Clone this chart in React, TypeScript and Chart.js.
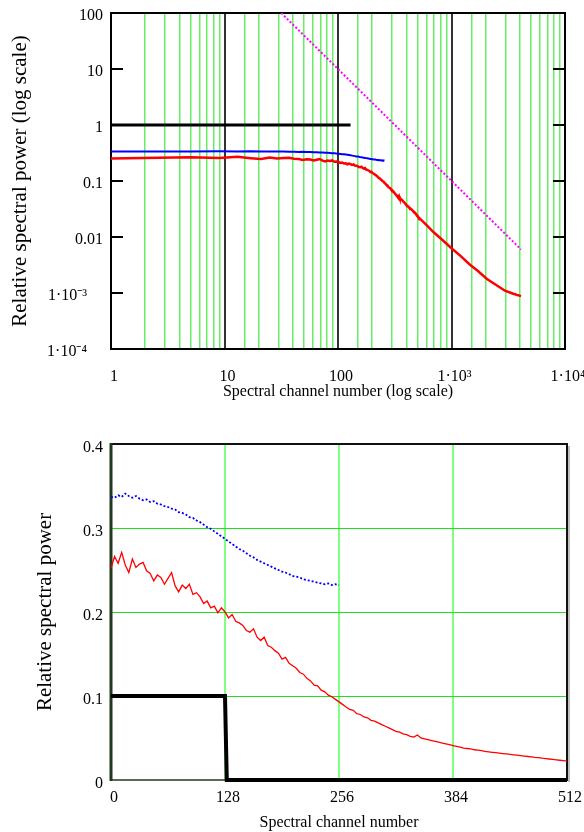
import React, { useEffect, useRef } from 'react';
import { Chart, registerables } from 'chart.js';

Chart.register(...registerables);

const SERIF = "'Liberation Serif', 'Times New Roman', serif";

// ---- data (bottom chart: channels 0..512 sampled every 4 channels) ----
const SAMPLE_STEP = 4;
const redPower = [
  0.252, 0.266, 0.258, 0.271, 0.256, 0.247, 0.263, 0.253, 0.257, 0.259,
  0.249, 0.246, 0.237, 0.244, 0.241, 0.233, 0.240, 0.247, 0.231, 0.224,
  0.232, 0.228, 0.233, 0.221, 0.223, 0.218, 0.210, 0.213, 0.205, 0.207,
  0.199, 0.205, 0.200, 0.193, 0.197, 0.189, 0.187, 0.184, 0.178, 0.176,
  0.180, 0.170, 0.166, 0.170, 0.160, 0.158, 0.154, 0.151, 0.144, 0.146,
  0.139, 0.136, 0.133, 0.128, 0.126, 0.121, 0.118, 0.113, 0.112, 0.107,
  0.105, 0.101, 0.099, 0.096, 0.093, 0.090, 0.087, 0.084, 0.083, 0.079,
  0.078, 0.075, 0.074, 0.071, 0.070, 0.068, 0.066, 0.064, 0.062, 0.060,
  0.058, 0.057, 0.055, 0.054, 0.052, 0.051, 0.0535, 0.050, 0.049, 0.048,
  0.047, 0.046, 0.045, 0.044, 0.043, 0.042, 0.041, 0.040, 0.039, 0.038,
  0.0375, 0.037, 0.036, 0.0355, 0.035, 0.034, 0.0335, 0.033, 0.0325, 0.032,
  0.0315, 0.031, 0.0305, 0.030, 0.0295, 0.029, 0.0285, 0.028, 0.0275, 0.027,
  0.0266, 0.026, 0.0255, 0.025, 0.0245, 0.024, 0.0235, 0.023, 0.0225,
];
const bluePower = [
  0.337, 0.336, 0.339, 0.337, 0.341, 0.338, 0.336, 0.338, 0.335, 0.333,
  0.334, 0.331, 0.332, 0.329, 0.328, 0.326, 0.325, 0.323, 0.322, 0.319,
  0.318, 0.316, 0.313, 0.312, 0.309, 0.307, 0.304, 0.301, 0.299, 0.296,
  0.293, 0.290, 0.287, 0.284, 0.281, 0.278, 0.275, 0.273, 0.270, 0.267,
  0.265, 0.262, 0.260, 0.258, 0.256, 0.254, 0.252, 0.250, 0.248, 0.247,
  0.245, 0.243, 0.242, 0.241, 0.239, 0.238, 0.237, 0.236, 0.235, 0.234,
  0.233, 0.234, 0.232, 0.233, 0.232,
];
// red spectrum beyond channel 512 (only shown on the log-log chart)
const tailChannels = [600, 700, 800, 1000, 1200, 1456, 1700, 2040, 2400, 2960, 3500, 4096];
const tailPower = [0.0165, 0.012, 0.0095, 0.0063, 0.0046, 0.0032, 0.0025, 0.0018, 0.00145, 0.0011, 0.00097, 0.00088];

// ideal low-pass (bottom) and flat level (top)
const cutoffX = [0, 128, 130, 512];
const cutoffY = [0.1, 0.1, 0, 0];
const flatX = [1, 129];
const flatY = [1, 1];
// power-law reference line (top)
const slopeX = [31.6, 4096];
const slopeY = [100, 0.006];

// ---- tick labels ----
const topXTickValues = [1, 10, 100, 1000, 10000];
const topXTickLabels = ['1', '10', '100', '1·10³', '1·10⁴'];
const topYTickValues = [100, 10, 1, 0.1, 0.01, 0.001, 0.0001];
const topYTickLabels = ['100', '10', '1', '0.1', '0.01', '1·10⁻³\u2002\u2002', '1·10⁻⁴\u2002\u2002'];
const botXTickValues = [0, 128, 256, 384, 512];
const botXTickLabels = ['0', '128', '256', '384', '512'];
const botYTickValues = [0, 0.1, 0.2, 0.3, 0.4];
const botYTickLabels = ['0', '0.1', '0.2', '0.3', '0.4'];

function logLabel(v: number, values: number[], labels: string[]) {
  for (let i = 0; i < values.length; i++) {
    if (Math.abs(Math.log10(v) - Math.log10(values[i])) < 1e-6) return labels[i];
  }
  return '';
}
function linLabel(v: number, values: number[], labels: string[]) {
  for (let i = 0; i < values.length; i++) {
    if (Math.abs(v - values[i]) < 1e-6) return labels[i];
  }
  return '';
}
function isDecade(v: number) {
  const l = Math.log10(v);
  return Math.abs(l - Math.round(l)) < 1e-6;
}

const framePlugin = {
  id: 'frame',
  beforeDatasetsDraw(chart: any, _args: any, opts: any) {
    const { ctx, chartArea: a } = chart;
    ctx.save();
    const sides = opts.sides || {};
    const line = (s: any, x1: number, y1: number, x2: number, y2: number) => {
      if (!s) return;
      ctx.strokeStyle = s.color;
      ctx.lineWidth = s.width;
      ctx.beginPath();
      ctx.moveTo(x1, y1);
      ctx.lineTo(x2, y2);
      ctx.stroke();
    };
    if (opts.inwardTicks) {
      const ys = chart.scales.y;
      opts.inwardTicks.forEach((v: number) => {
        const y = ys.getPixelForValue(v);
        line({ color: '#000', width: 2 }, a.left, y, a.left + 12, y);
        line({ color: '#000', width: 2 }, a.right - 12, y, a.right, y);
      });
    }
    line(sides.top, a.left - 1, a.top, a.right + 1, a.top);
    line(sides.bottom, a.left - 1, a.bottom, a.right + 1, a.bottom);
    line(sides.shadow, a.right + 2, a.top + 2, a.right + 2, a.bottom + 2);
    line(sides.right, a.right, a.top - 1, a.right, a.bottom + 1);
    line(sides.left, a.left, a.top - 1, a.left, a.bottom + 1);
    ctx.restore();
  },
};

function xy(xs: number[], ys: number[]) {
  return xs.map((x, i) => ({ x, y: ys[i] }));
}

function topConfig(): any {
  const redTop = redPower.map((y, i) => ({ x: i * SAMPLE_STEP + 1, y })).concat(xy(tailChannels, tailPower));
  const blueTop = bluePower.map((y, i) => ({ x: i * SAMPLE_STEP + 1, y }));
  return {
    type: 'line',
    data: {
      datasets: [
        { data: redTop, borderColor: '#ff0000', borderWidth: 2.5, pointRadius: 0 },
        { data: blueTop, borderColor: '#0000ff', borderWidth: 2, pointRadius: 0 },
        { data: xy(flatX, flatY), borderColor: '#000000', borderWidth: 3, pointRadius: 0 },
        { data: xy(slopeX, slopeY), borderColor: '#ff00ff', borderWidth: 2, borderDash: [2, 2], pointRadius: 0 },
      ],
    },
    options: {
      responsive: false,
      animation: false,
      devicePixelRatio: 1,
      layout: { padding: { top: 13, right: 19, left: 0, bottom: 0 } },
      plugins: {
        legend: { display: false },
        tooltip: { enabled: false },
        frame: {
          inwardTicks: topYTickValues,
          sides: {
            top: { color: '#000', width: 2 },
            bottom: { color: '#000', width: 2 },
            left: { color: '#000', width: 2 },
            right: { color: '#000', width: 2 },
          },
        },
      },
      scales: {
        x: {
          type: 'logarithmic',
          min: 1,
          max: 10000,
          afterFit: (s: any) => { s.height = 61; s.paddingLeft = 0; s.paddingRight = 0; },
          border: { display: false },
          grid: {
            drawTicks: false,
            color: (c: any) => (isDecade(c.tick.value) ? '#333333' : '#66ee66'),
            lineWidth: (c: any) => (isDecade(c.tick.value) ? 2 : 1.5),
          },
          ticks: {
            autoSkip: false,
            maxRotation: 0,
            padding: 18,
            labelOffset: 3,
            color: '#000',
            font: { family: SERIF, size: 16 },
            callback: (v: any) => logLabel(Number(v), topXTickValues, topXTickLabels),
          },
          title: {
            display: true,
            text: 'Spectral channel number (log scale)',
            color: '#000',
            font: { family: SERIF, size: 16 },
            padding: { top: 0, bottom: 9 },
          },
        },
        y: {
          type: 'logarithmic',
          min: 0.0001,
          max: 100,
          afterFit: (s: any) => { s.width = 111; s.paddingTop = 0; s.paddingBottom = 0; },
          border: { display: false },
          grid: { drawOnChartArea: false, drawTicks: false },
          ticks: {
            autoSkip: false,
            padding: 8,
            labelOffset: 3,
            color: '#000',
            font: { family: SERIF, size: 16 },
            callback: (v: any) => logLabel(Number(v), topYTickValues, topYTickLabels),
          },
          title: {
            display: true,
            text: 'Relative spectral power (log scale)',
            color: '#000',
            font: { family: SERIF, size: 21 },
            padding: { top: 8, bottom: 0 },
          },
        },
      },
    },
    plugins: [framePlugin],
  };
}

function bottomConfig(): any {
  const redBot = redPower.map((y, i) => ({ x: i * SAMPLE_STEP, y }));
  const blueBot = bluePower.map((y, i) => ({ x: i * SAMPLE_STEP, y }));
  return {
    type: 'line',
    data: {
      datasets: [
        { data: redBot, borderColor: '#ff0000', borderWidth: 1.3, pointRadius: 0 },
        { data: blueBot, borderColor: '#0000ff', borderWidth: 1.8, borderDash: [2, 2], pointRadius: 0 },
        { data: xy(cutoffX, cutoffY), borderColor: '#000000', borderWidth: 4, pointRadius: 0, clip: false },
      ],
    },
    options: {
      responsive: false,
      animation: false,
      devicePixelRatio: 1,
      layout: { padding: { top: 34, right: 17, left: 0, bottom: 0 } },
      plugins: {
        legend: { display: false },
        tooltip: { enabled: false },
        frame: {
          sides: {
            top: { color: '#111', width: 2 },
            bottom: { color: '#1f3a1f', width: 1.5 },
            left: { color: '#1f3a1f', width: 3 },
            right: { color: '#111', width: 2 },
            shadow: { color: '#aaaaaa', width: 1.5 },
          },
        },
      },
      scales: {
        x: {
          type: 'linear',
          min: 0,
          max: 512,
          afterFit: (s: any) => { s.height = 52; s.paddingLeft = 0; s.paddingRight = 0; },
          border: { display: false },
          grid: {
            drawTicks: false,
            color: (c: any) => (c.tick.value === 0 || c.tick.value === 512 ? 'rgba(0,0,0,0)' : '#80ff80'),
            lineWidth: 2,
          },
          ticks: {
            stepSize: 128,
            autoSkip: false,
            maxRotation: 0,
            padding: 8,
            labelOffset: 3,
            color: '#000',
            font: { family: SERIF, size: 16 },
            callback: (v: any) => linLabel(Number(v), botXTickValues, botXTickLabels),
          },
          title: {
            display: true,
            text: 'Spectral channel number',
            color: '#000',
            font: { family: SERIF, size: 16 },
            padding: { top: 0, bottom: 0 },
          },
        },
        y: {
          type: 'linear',
          min: 0,
          max: 0.4,
          afterFit: (s: any) => { s.width = 111; s.paddingTop = 0; s.paddingBottom = 0; },
          border: { display: false },
          grid: {
            drawTicks: false,
            color: (c: any) => (c.tick.value < 0.05 || c.tick.value > 0.35 ? 'rgba(0,0,0,0)' : '#22dd22'),
            lineWidth: 1,
          },
          ticks: {
            stepSize: 0.1,
            autoSkip: false,
            padding: 8,
            labelOffset: 4,
            color: '#000',
            font: { family: SERIF, size: 16 },
            callback: (v: any) => linLabel(Number(v), botYTickValues, botYTickLabels),
          },
          title: {
            display: true,
            text: 'Relative spectral power',
            color: '#000',
            font: { family: SERIF, size: 21 },
            padding: { top: 33, bottom: 0 },
          },
        },
      },
    },
    plugins: [framePlugin],
  };
}

function ChartCanvas({ make, top, height }: { make: () => any; top: number; height: number }) {
  const ref = useRef<HTMLCanvasElement>(null);
  useEffect(() => {
    const chart = new Chart(ref.current as HTMLCanvasElement, make());
    return () => chart.destroy();
  }, []);
  return (
    <canvas
      ref={ref}
      width={584}
      height={height}
      style={{ position: 'absolute', left: 0, top, width: 584, height }}
    />
  );
}

export default function App() {
  return (
    <div style={{ position: 'absolute', left: 0, top: 0, width: 584, height: 832, background: '#fff' }}>
      <ChartCanvas make={topConfig} top={0} height={410} />
      <ChartCanvas make={bottomConfig} top={410} height={422} />
    </div>
  );
}
